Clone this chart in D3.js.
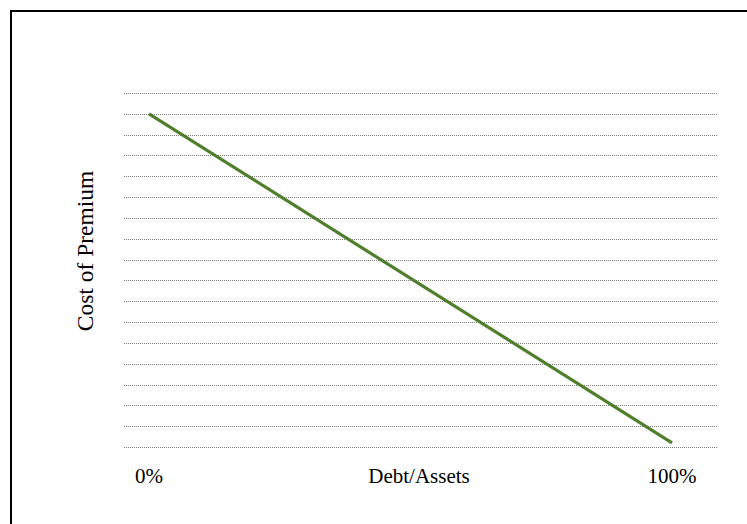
<!DOCTYPE html>
<html>
<head>
<meta charset="utf-8">
<script src="https://cdn.jsdelivr.net/npm/d3@7/dist/d3.min.js"></script>
<style>
  html, body { margin: 0; padding: 0; background: #fff; }
  svg { display: block; }
  text { font-family: "Liberation Serif", "Times New Roman", serif; fill: #000; }
</style>
</head>
<body>
<svg id="chart" width="747" height="524"></svg>
<script>
// Debt/Assets share (0..1) and the matching premium level (grid units)
const debtShare = [0, 1];
const premium = [16, 0.2];
// Horizontal grid levels
const gridLevels = d3.range(0, 18);
// Axis end labels
const xTickValues = [0, 1];
const xTickLabels = ["0%", "100%"];
const xTitle = "Debt/Assets";
const yTitle = "Cost of Premium";

const svg = d3.select("#chart");

// outer frame
svg.append("rect")
  .attr("x", 11).attr("y", 11)
  .attr("width", 760).attr("height", 540)
  .attr("fill", "none").attr("stroke", "#000").attr("stroke-width", 2);

const x = d3.scaleLinear().domain([0, 1]).range([149, 672]);
const y = d3.scaleLinear().domain([0, 17]).range([447, 93]);
const gridX = [124, 717];

svg.append("g").selectAll("line")
  .data(gridLevels)
  .join("line")
  .attr("x1", gridX[0]).attr("x2", gridX[1])
  .attr("y1", d => Math.round(y(d)) + 0.5)
  .attr("y2", d => Math.round(y(d)) + 0.5)
  .attr("stroke", "#7a7a7a")
  .attr("stroke-width", 1.2)
  .attr("stroke-dasharray", "1,1");

const line = d3.line()
  .x((d, i) => x(debtShare[i]))
  .y(d => y(d));

svg.append("path")
  .datum(premium)
  .attr("d", line)
  .attr("fill", "none")
  .attr("stroke", "#4f7f2c")
  .attr("stroke-width", 3.2);

svg.append("g").selectAll("text")
  .data(xTickValues)
  .join("text")
  .attr("x", d => x(d))
  .attr("y", 483)
  .attr("text-anchor", "middle")
  .attr("font-size", 21)
  .text((d, i) => xTickLabels[i]);

svg.append("text")
  .attr("x", 419).attr("y", 483)
  .attr("text-anchor", "middle")
  .attr("font-size", 21)
  .text(xTitle);

svg.append("text")
  .attr("transform", "translate(93,251) rotate(-90)")
  .attr("text-anchor", "middle")
  .attr("font-size", 23.5)
  .text(yTitle);
</script>
</body>
</html>
